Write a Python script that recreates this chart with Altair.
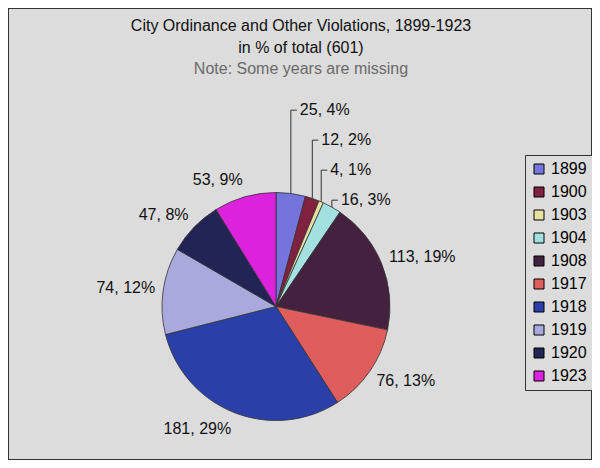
import math
import altair as alt
import pandas as pd

# ---------------- data ----------------
years = ["1899", "1900", "1903", "1904", "1908", "1917", "1918", "1919", "1920", "1923"]
counts = [25, 12, 4, 16, 113, 76, 181, 74, 47, 53]
percents = [4, 2, 1, 3, 19, 13, 29, 12, 8, 9]
colors = ["#7474dc", "#82203f", "#e8e2a2", "#a3e0e0", "#44223f",
          "#df5d5d", "#2a40a8", "#a9a9de", "#232456", "#dc22dc"]

title_line1 = "City Ordinance and Other Violations, 1899-1923"
title_line2 = "in % of total (601)"
note_line = "Note: Some years are missing"

# ---------------- layout / style ----------------
W, H = 584, 452
CX, CY, R = 268, 298.5, 114
GAP = 8          # distance of label anchor beyond the rim
VSHIFT = 10      # extra vertical push of labels away from centre
SPACING = 30     # minimal vertical spacing of labels on one side
FONT = "Liberation Sans"
BG = "#dcdcdc"

total = sum(counts)

# ---------------- label placement computed from the data ----------------
rows = []
cum = 0
for i, (yr, c, p) in enumerate(zip(years, counts, percents)):
    mid = (cum + c / 2) / total * 2 * math.pi
    cum += c
    s, co = math.sin(mid), math.cos(mid)
    ex, ey = CX + R * s, CY - R * co
    lx = CX + (R + GAP) * s
    ly = CY - (R + GAP) * co - VSHIFT * co
    align = "left" if s > 0.15 else ("right" if s < -0.15 else "center")
    rows.append(dict(idx=i, year=yr, text=f"{c}, {p}%", s=s, co=co, ex=ex, ey=ey,
                     lx=lx, ly=ly, align=align, crowded=False))

# labels on the right side that collide get leader lines and are pushed upward
right = [r for r in rows if r["s"] > 0]
for a, b in zip(right, right[1:]):
    if abs(b["ly"] - a["ly"]) < SPACING:
        a["crowded"] = b["crowded"] = True
for r in right:
    if r["crowded"]:
        r["ly"] = CY - (R + GAP) * r["co"]
for k in range(len(right) - 2, -1, -1):
    right[k]["ly"] = min(right[k]["ly"], right[k + 1]["ly"] - SPACING)

leader = []
for r in rows:
    if r["crowded"]:
        r["align"] = "left"
        r["lx"] = r["ex"] + 9
        pts = [(r["ex"], r["ey"]), (r["ex"], r["ly"]), (r["lx"] - 3, r["ly"])]
        for k, (px, py) in enumerate(pts):
            leader.append(dict(year=r["year"], k=k, x=px, y=py))

pie_df = pd.DataFrame({"idx": list(range(len(years))), "year": years, "count": counts})
lab_df = pd.DataFrame(rows)
lead_df = pd.DataFrame(leader)

# ---------------- chart ----------------
pie = alt.Chart(pie_df).mark_arc(outerRadius=R, stroke="#333333", strokeWidth=0.8).encode(
    theta=alt.Theta("count:Q", stack=True),
    order=alt.Order("idx:Q"),
    color=alt.Color(
        "year:N",
        scale=alt.Scale(domain=years, range=colors),
        sort=years,
        legend=alt.Legend(
            title=None, orient="none", legendX=517, legendY=147,
            symbolType="square", symbolSize=100, symbolStrokeColor="#000000",
            symbolStrokeWidth=1, labelFont=FONT, labelFontSize=16,
            labelColor="#000000", labelOffset=4, rowPadding=7, padding=6,
            strokeColor="#333333", fillColor=BG,
        ),
    ),
    x=alt.value(CX),
    y=alt.value(CY),
)

leaders = alt.Chart(lead_df).mark_line(color="#333333", strokeWidth=1).encode(
    x=alt.X("x:Q", scale=None),
    y=alt.Y("y:Q", scale=None),
    detail="year:N",
    order="k:Q",
)

def text_layer(al):
    return alt.Chart(lab_df).transform_filter(alt.datum.align == al).mark_text(
        align=al, baseline="middle", font=FONT, fontSize=16, color="#111111"
    ).encode(x=alt.X("lx:Q", scale=None), y=alt.Y("ly:Q", scale=None), text="text:N")

def title_layer(txt, ypos, col):
    return alt.Chart(pd.DataFrame({"t": [txt]})).mark_text(
        align="center", baseline="middle", font=FONT, fontSize=16, color=col
    ).encode(x=alt.value(293), y=alt.value(ypos), text="t:N")

chart = alt.layer(
    pie, leaders, text_layer("left"), text_layer("right"), text_layer("center"),
    title_layer(title_line1, 18, "#111111"),
    title_layer(title_line2, 40, "#111111"),
    title_layer(note_line, 61, "#6a6a6a"),
).properties(
    width=W, height=H, padding=0, background=BG,
    autosize=alt.AutoSizeParams(type="none"),
).configure_view(stroke="#333333", strokeWidth=2, fill=BG)

chart.save("out.html", embed_options={"renderer": "svg", "actions": False})
